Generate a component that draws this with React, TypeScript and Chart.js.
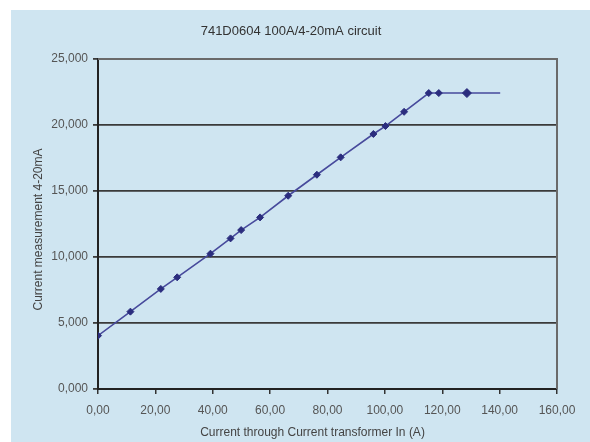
import React, { useEffect, useRef } from "react";
import { Chart, registerables } from "chart.js";

Chart.register(...registerables);

const chartTitle = "741D0604 100A/4-20mA circuit";
const xAxisTitle = "Current through Current transformer In (A)";
const yAxisTitle = "Current measurement 4-20mA";

const currentIn = [0, 11.3, 21.9, 27.6, 39.2, 46.2, 49.9, 56.5, 66.3, 76.3, 84.6, 96.0, 100.2, 106.7, 115.3, 118.8, 128.6, 140.2];
const measurement = [4.04, 5.86, 7.58, 8.46, 10.25, 11.41, 12.04, 13.0, 14.64, 16.23, 17.55, 19.32, 19.92, 21.0, 22.42, 22.42, 22.42, 22.42];
const markerSizes = [3.5, 3.5, 3.5, 3.5, 3.5, 3.5, 3.5, 3.5, 3.5, 3.5, 3.5, 3.5, 3.5, 3.5, 3.5, 3.5, 4.5, 0];

const xMin = 0, xMax = 160, xStep = 20;
const yMin = 0, yMax = 25, yStep = 5;

const FONT = "'Liberation Sans', Arial, sans-serif";

const framePlugin = {
  id: "frame",
  afterDraw(chart: any) {
    const { ctx, chartArea } = chart;
    ctx.save();
    // top and right border
    ctx.strokeStyle = "#6a6a6a";
    ctx.lineWidth = 2;
    ctx.beginPath();
    ctx.moveTo(chartArea.left, chartArea.top);
    ctx.lineTo(chartArea.right, chartArea.top);
    ctx.lineTo(chartArea.right, chartArea.bottom);
    ctx.stroke();
    // titles
    ctx.fillStyle = "#333";
    ctx.textAlign = "center";
    ctx.textBaseline = "middle";
    ctx.font = `13px ${FONT}`;
    ctx.fillText(chartTitle, 280, 21);
    ctx.fillStyle = "#444";
    ctx.font = `12px ${FONT}`;
    ctx.fillText(xAxisTitle, 301.5, 423);
    ctx.translate(27.3, 219.5);
    ctx.rotate(-Math.PI / 2);
    ctx.fillText(yAxisTitle, 0, 0);
    ctx.restore();
  },
};

export default function App() {
  const ref = useRef<HTMLCanvasElement | null>(null);
  useEffect(() => {
    if (!ref.current) return;
    const chart = new Chart(ref.current, {
      type: "scatter",
      data: {
        datasets: [
          {
            data: currentIn.map((x, i) => ({ x, y: measurement[i] })),
            showLine: true,
            borderColor: "#474a9c",
            borderWidth: 1.6,
            backgroundColor: "#2b2d7e",
            pointBackgroundColor: "#2b2d7e",
            pointBorderColor: "#2b2d7e",
            pointStyle: "rectRot",
            pointRadius: markerSizes,
            pointBorderWidth: 1,
          },
        ],
      },
      options: {
        animation: false,
        responsive: false,
        layout: { padding: { top: 49, right: 33, left: 0, bottom: 0 } },
        plugins: {
          legend: { display: false },
          title: { display: false },
          tooltip: { enabled: false },
        },
        scales: {
          x: {
            type: "linear",
            min: xMin,
            max: xMax,
            afterFit: (s: any) => { s.height = 53; },
            ticks: {
              stepSize: xStep,
              color: "#555",
              font: { family: FONT, size: 12 },
              padding: 9,
              maxRotation: 0,
              callback: (v: any) => Number(v).toFixed(2).replace(".", ","),
            },
            grid: { drawOnChartArea: false, drawTicks: true, tickLength: 5, color: "#333", lineWidth: 1.5 },
            border: { display: true, color: "#222", width: 2 },
          },
          y: {
            type: "linear",
            min: yMin,
            max: yMax,
            afterFit: (s: any) => { s.width = 87; },
            ticks: {
              stepSize: yStep,
              color: "#555",
              font: { family: FONT, size: 12 },
              padding: 5,
              callback: (v: any) => Number(v).toFixed(3).replace(".", ","),
            },
            grid: { drawOnChartArea: true, drawTicks: true, tickLength: 5, color: "#3a3a3a", lineWidth: 1.8 },
            border: { display: true, color: "#222", width: 2 },
          },
        },
      },
      plugins: [framePlugin],
    });
    return () => chart.destroy();
  }, []);
  return (
    <div style={{ position: "absolute", left: 0, top: 0, width: 590, height: 442, background: "#fff" }}>
      <canvas
        ref={ref}
        width={579}
        height={432}
        style={{ position: "absolute", left: 11, top: 10, width: 579, height: 432, background: "#cfe5f1" }}
      />
    </div>
  );
}
